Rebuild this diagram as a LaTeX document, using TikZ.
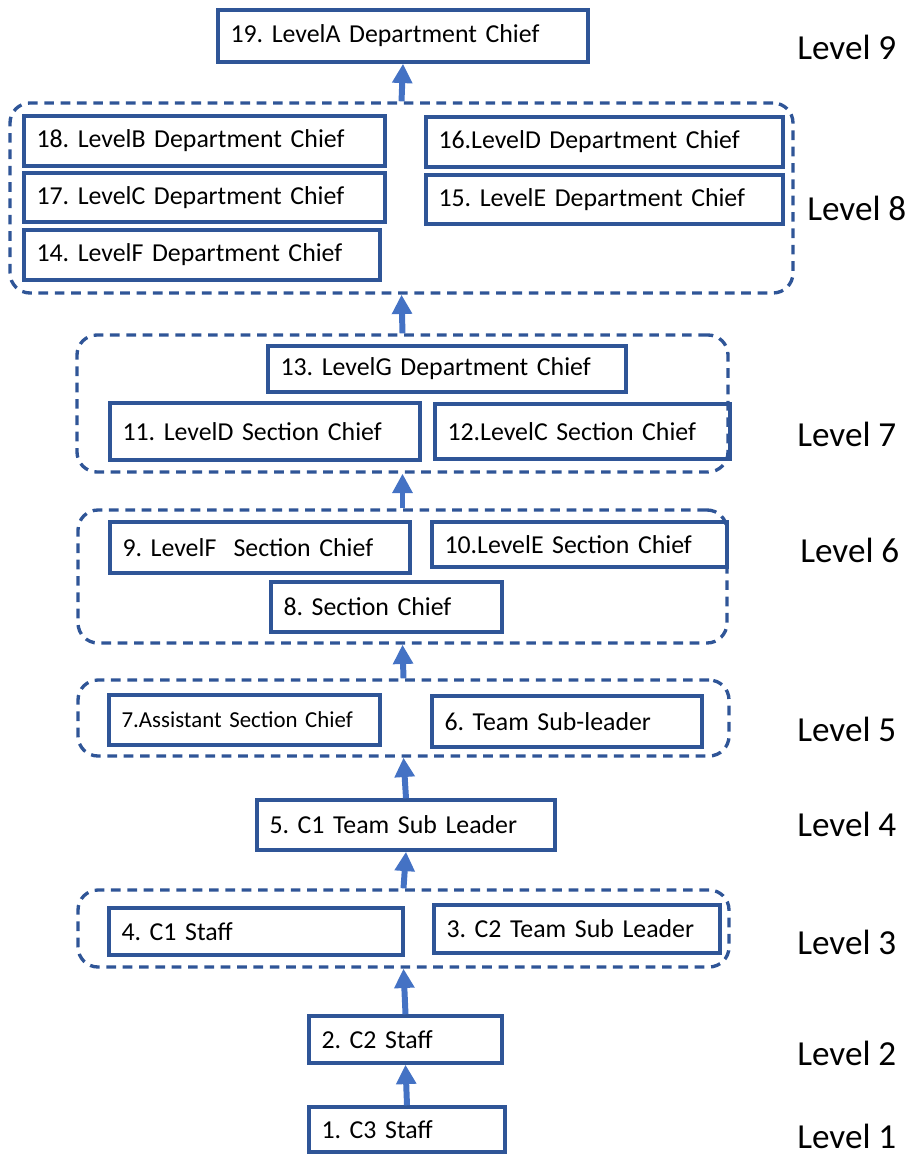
\documentclass[tikz,border=0pt]{standalone}
\usepackage{fontspec}
\setmainfont{Carlito}
\usetikzlibrary{arrows.meta}
\definecolor{cadre}{HTML}{2F5597}
\definecolor{fleche}{HTML}{4472C4}

\begin{document}
\begin{tikzpicture}[
    postbox/.style 2 args={draw=cadre, line width=2pt, rectangle, minimum height=#2cm,
        text width=#1cm-0.5cm, inner xsep=0.25cm, inner ysep=0pt, align=left,
        font=\fontsize{14.7}{18}\selectfont\frenchspacing},
    groupbox/.style 2 args={draw=cadre, line width=1.9pt, dash pattern=on 5.5pt off 3.8pt,
        rounded corners=0.4cm, minimum width=#1cm, minimum height=#2cm, inner sep=0pt},
    uparrow/.style={draw=fleche, line width=3.4pt, -{Triangle[width=11pt,length=11pt]}},
    levellabel/.style={anchor=west, inner sep=0pt, font=\fontsize{20}{24}\selectfont}
]
    \useasboundingbox (0,0) rectangle (18.24,-23.16);

    % Groupes en pointillés
    \node[groupbox={15.66}{3.8}] (g8) at (8.03,-3.96) {};
    \node[groupbox={13.02}{2.74}] (g7) at (8.05,-8.07) {};
    \node[groupbox={12.98}{2.66}] (g6) at (8.05,-11.53) {};
    \node[groupbox={13.02}{1.52}] (g5) at (8.07,-14.36) {};
    \node[groupbox={13.02}{1.54}] (g3) at (8.07,-18.57) {};

    % Postes
    \node[postbox={7.4}{1.04}] (b19) at (8.06,-0.72) {19. LevelA Department Chief};
    \node[postbox={7.22}{1.0}] (b18) at (4.09,-2.82) {18. LevelB Department Chief};
    \node[postbox={7.22}{0.98}] (b17) at (4.09,-3.95) {17. LevelC Department Chief};
    \node[postbox={7.12}{1.0}] (b14) at (4.04,-5.1) {14. LevelF Department Chief};
    \node[postbox={7.14}{1.0}] (b16) at (12.09,-2.84) {16.LevelD Department Chief};
    \node[postbox={7.14}{0.98}] (b15) at (12.09,-3.99) {15. LevelE Department Chief};
    \node[postbox={7.16}{0.92}] (b13) at (8.94,-7.38) {13. LevelG Department Chief};
    \node[postbox={6.2}{1.14}] (b11) at (5.3,-8.63) {11. LevelD Section Chief};
    \node[postbox={5.9}{1.1}] (b12) at (11.65,-8.63) {12.LevelC Section Chief};
    \node[postbox={6.0}{1.02}] (b9) at (5.2,-10.95) {9. LevelF\ \ Section Chief};
    \node[postbox={5.9}{0.9}] (b10) at (11.59,-10.89) {10.LevelE Section Chief};
    \node[postbox={4.62}{1.0}] (b8) at (7.73,-12.14) {8. Section Chief};
    \node[postbox={5.42}{1.0}, font=\fontsize{13}{16}\selectfont\frenchspacing] (b7) at (4.89,-14.4) {7.Assistant Section Chief};
    \node[postbox={5.4}{1.02}] (b6) at (11.34,-14.43) {6. Team Sub-leader};
    \node[postbox={5.96}{1.0}] (b5) at (8.12,-16.5) {5. C1 Team Sub Leader};
    \node[postbox={5.88}{0.94}] (b4) at (5.12,-18.63) {4. C1 Staff};
    \node[postbox={5.72}{0.96}] (b3) at (11.54,-18.58) {3. C2 Team Sub Leader};
    \node[postbox={3.86}{0.94}] (b2) at (8.11,-20.79) {2. C2 Staff};
    \node[postbox={3.92}{0.9}] (b1) at (8.14,-22.59) {1. C3 Staff};

    % Flèches vers le haut
    \draw[uparrow] (b1.north) -- (b2.south);
    \draw[uparrow] (b2.north) -- (g3.south);
    \draw[uparrow] (g3.north) -- (b5.south);
    \draw[uparrow] (b5.north) -- (g5.south);
    \draw[uparrow] (g5.north) -- (g6.south);
    \draw[uparrow] (g6.north) -- (g7.south);
    \draw[uparrow] (g7.north) -- (g8.south);
    \draw[uparrow] (g8.north) -- (b19.south);

    % Niveaux
    \foreach \n/\x/\y in {9/15.94/-0.94, 8/16.14/-4.16, 7/15.94/-8.68, 6/16.0/-11.0,
        5/15.94/-14.58, 4/15.94/-16.48, 3/15.94/-18.84, 2/15.94/-21.06, 1/15.94/-22.72} {
        \node[levellabel] (lvl\n) at (\x,\y) {Level \n};
    }
\end{tikzpicture}
\end{document}
